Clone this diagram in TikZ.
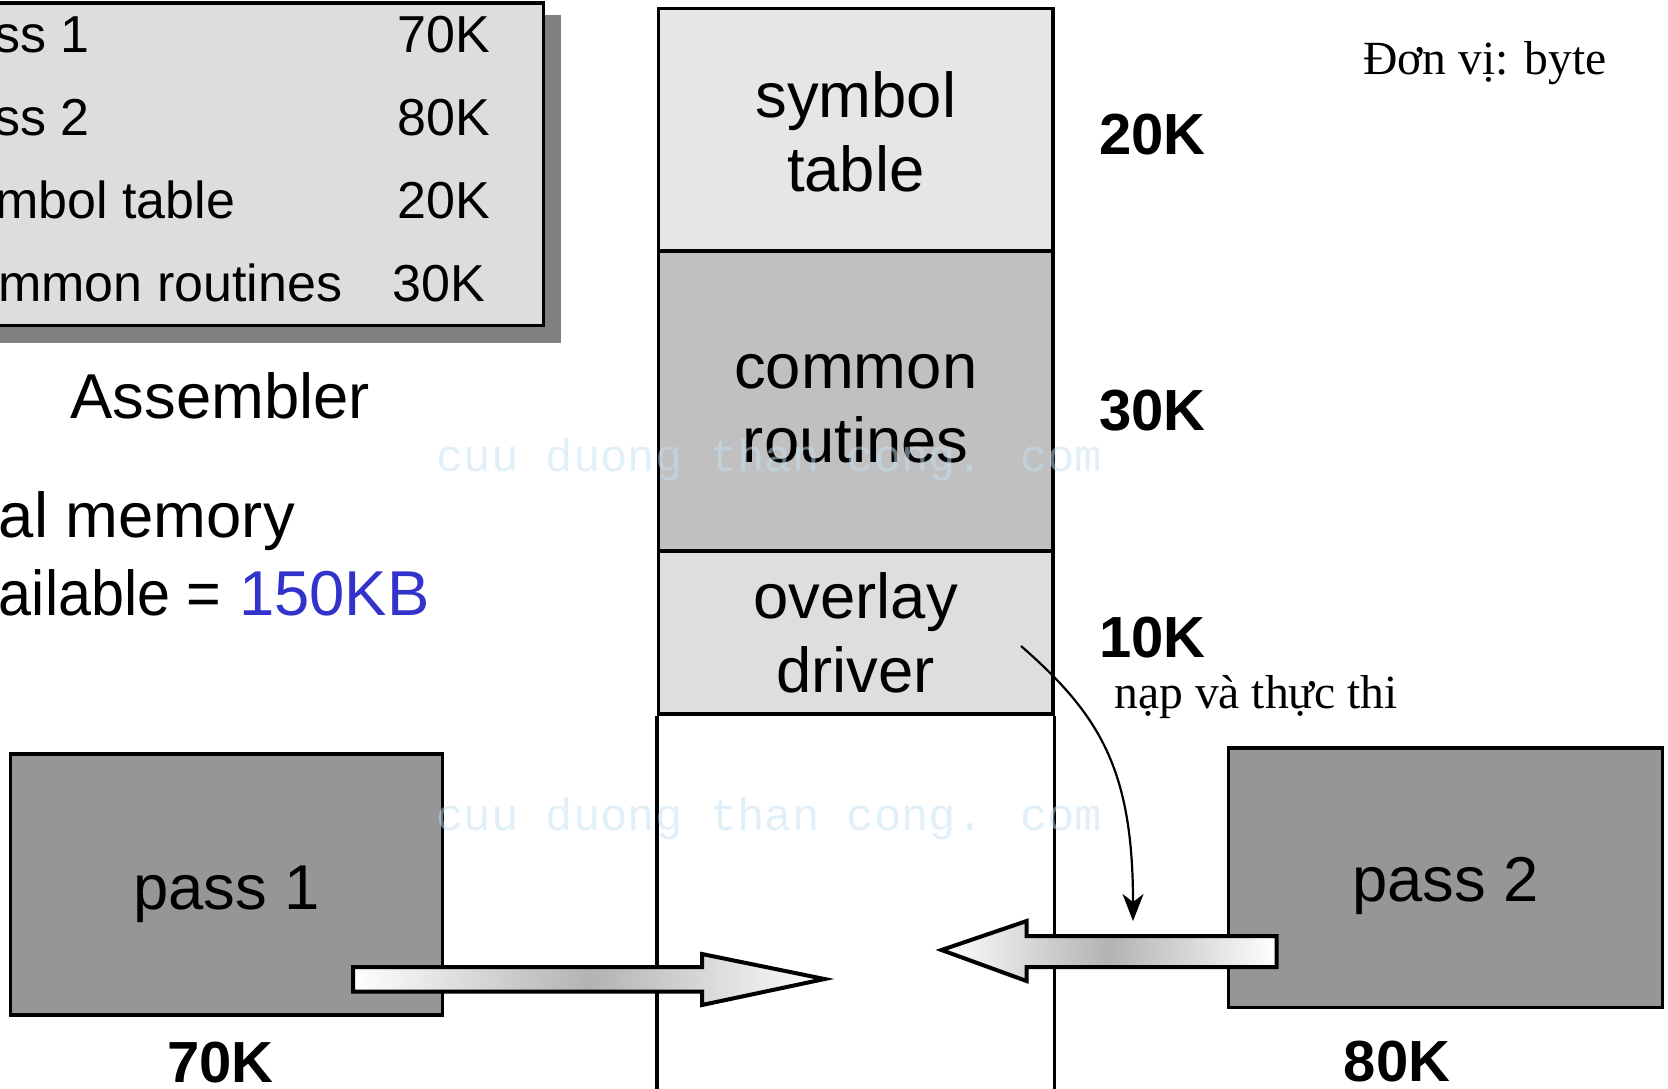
\documentclass[tikz,border=0pt]{standalone}
\usepackage{fontspec}
\setmainfont{Liberation Sans}
\newfontfamily\seriffont{Liberation Serif}
\newfontfamily\wmfont{Liberation Mono}
\usetikzlibrary{arrows.meta}
\definecolor{boxgray}{HTML}{DDDDDD}
\definecolor{shadowgray}{HTML}{808080}
\definecolor{passgray}{HTML}{969696}
\definecolor{stgray}{HTML}{E6E6E6}
\definecolor{crgray}{HTML}{C0C0C0}
\definecolor{odgray}{HTML}{DEDEDE}
\definecolor{kbblue}{HTML}{3333CC}
\definecolor{wmark}{HTML}{C4E2F2}
\begin{document}
\begin{tikzpicture}[x=0.5pt,y=-0.5pt,
  tbl/.style={font=\fontsize{26}{30}\selectfont, inner sep=0, anchor=base west},
  big/.style={font=\fontsize{31.7}{37}\selectfont, inner sep=0, anchor=base west},
  sizelbl/.style={font=\bfseries\fontsize{29}{33}\selectfont, inner sep=0, anchor=base west},
  note/.style={font=\seriffont\fontsize{23.8}{28}\selectfont, inner sep=0, anchor=base west},
  cell/.style={draw, line width=1.6pt, minimum width=197.25pt, inner sep=0},
  celltext/.style={inner sep=0, align=center, font=\fontsize{31.7}{37}\selectfont},
  passbox/.style={draw, line width=1.6pt, fill=passgray, inner sep=0},
  blockarrow/.style={draw, line width=2pt, line join=miter, left color=white, right color=white, middle color=gray!60},
  wm/.style={font=\wmfont\fontsize{22.8}{28}\selectfont, text=wmark, opacity=0.5, inner sep=0, anchor=west},
]
\useasboundingbox (0,0) rectangle (1668,1088);
\clip (0,0) rectangle (1668,1088);

% summary box with shadow
\fill[shadowgray] (-20,15) rectangle (560.6,342.5);
\draw[fill=boxgray, line width=1.6pt] (-20,3) rectangle (543.6,325.5);
\node[tbl] (t1a) at (-64,52) {pass 1};
\node[tbl] (t1b) at (397,52) {70K};
\node[tbl] (t2a) at (-64,135) {pass 2};
\node[tbl] (t2b) at (397,135) {80K};
\node[tbl] (t3a) at (-57,218) {symbol table};
\node[tbl] (t3b) at (397,218) {20K};
\node[tbl] (t4a) at (-57,301) {common routines};
\node[tbl] (t4b) at (392.5,301) {30K};

\node[big] (asm) at (70,418) {Assembler};
\node[big] (mem1) at (-72,537) {total memory};
\node[big] (mem2) at (-64,615) {\scalebox{0.935}[1]{available =}\ {\color{kbblue}150KB}};

% memory column
\node[cell, fill=stgray, minimum height=121.25pt] (st) at (855.75,129.75) {};
\node[cell, fill=crgray, minimum height=150pt] (cr) at (855.75,401) {};
\node[cell, fill=odgray, minimum height=81.5pt] (od) at (855.75,632.5) {};
\node[celltext] (stt) at ([yshift=-1pt]st.center) {symbol\\table};
\node[celltext] (crt) at ([yshift=-3.75pt]cr.center) {common\\routines};
\node[celltext] (odt) at (od.center) {overlay\\driver};
\coordinate (colbl) at (658.5,1100);
\coordinate (colbr) at (1053,1100);
\draw[line width=1.6pt] (od.south west) -- (od.south west |- colbl);
\draw[line width=1.6pt] (od.south east) -- (od.south east |- colbr);

\node[sizelbl] (k20) at (1099,154) {20K};
\node[sizelbl] (k30) at (1099,430) {30K};
\node[sizelbl] (k10) at (1099,657) {10K};

\node[note] (unit) at (1363,74.5) {Đơn vị: byte};
\node[note] (load) at (1114,708.5) {nạp và thực thi};

% pass boxes
\node[passbox, minimum width=216pt, minimum height=130.5pt] (p1) at (226.5,884.5) {};
\node[passbox, minimum width=217pt, minimum height=129.7pt] (p2) at (1445.7,877.7) {};
\node[celltext] (p1t) at ([yshift=-5pt]p1.center) {pass 1};
\node[celltext] (p2t) at ([yshift=-4pt]p2.center) {pass 2};
\node[sizelbl] (k70) at (167,1082) {70K};
\node[sizelbl] (k80) at (1343.5,1081) {80K};

% block arrows
\coordinate (rtip) at (824.5,979);
\coordinate (ltip) at (941.5,950);
\draw[blockarrow] (353,967) -- (702,967) -- (702,954) -- (rtip) -- (702,1005) -- (702,991.5) -- (353,991.5) -- cycle;
\draw[blockarrow] (ltip) -- (1026.6,921) -- (1026.6,936) -- (1276.6,936) -- (1276.6,967) -- (1026.6,967) -- (1026.6,981) -- cycle;

% load-and-execute arrow
\coordinate (cstart) at (1021,646);
\coordinate (cend) at (1133,921);
\draw[line width=1.1pt, -{Stealth[length=13.5pt, width=10.5pt, inset=4pt]}]
  (cstart) .. controls (1100,715) and (1133,770) .. (cend);

% watermark
\node[wm] (wm1) at (436,460) {cuu duong than cong. com};
\node[wm] (wm2) at (436,819) {cuu duong than cong. com};
\end{tikzpicture}
\end{document}
